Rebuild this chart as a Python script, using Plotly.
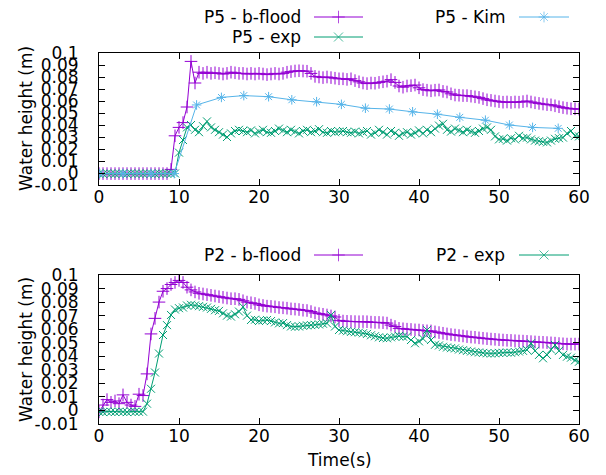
import plotly.graph_objects as go

# ---------------- data ----------------
STEP = 0.5
t_grid = [i * STEP for i in range(121)]  # 0 .. 60 s

p5_bflood = [
    -0.0005, -0.0005, -0.0005, -0.0005, -0.0005, -0.0005, -0.0005, -0.0005, -0.0005, -0.0005,
    -0.0005, -0.0005, -0.0005, -0.0005, -0.0005, -0.0005, -0.0005, -0.0005,
    0.003, 0.031, 0.038, 0.042, 0.055, 0.093, 0.075, 0.084, 0.083, 0.084,
    0.083, 0.0835, 0.083, 0.0825, 0.083, 0.084, 0.0835, 0.083, 0.083, 0.0825,
    0.083, 0.0825, 0.083, 0.0825, 0.082, 0.0825, 0.083, 0.0825, 0.083, 0.084,
    0.0845, 0.085, 0.0852, 0.085, 0.0848, 0.083, 0.0805, 0.080, 0.0795, 0.080,
    0.0795, 0.079, 0.0785, 0.0785, 0.078, 0.0785, 0.077, 0.076, 0.075, 0.0745,
    0.075, 0.0748, 0.0755, 0.076, 0.0765, 0.0778, 0.0755, 0.0725, 0.0715, 0.0725,
    0.0728, 0.0733, 0.071, 0.0695, 0.069, 0.0685, 0.069, 0.0692, 0.068, 0.0675,
    0.066, 0.065, 0.0648, 0.0645, 0.0645, 0.064, 0.0635, 0.063, 0.062, 0.061,
    0.0605, 0.060, 0.0595, 0.059, 0.0592, 0.0588, 0.0592, 0.059, 0.0595, 0.060,
    0.0592, 0.0585, 0.058, 0.0575, 0.057, 0.0568, 0.056, 0.0552, 0.0545, 0.054,
    0.0535, 0.0535, 0.0532,
]

p5_exp = [
    -0.0005, -0.0007, -0.0003, -0.0005, -0.0006, -0.0004, -0.0005, -0.0007, -0.0003, -0.0005,
    -0.0005, -0.0006, -0.0004, -0.0005, -0.0007, -0.0003, -0.0005, -0.0005, -0.0006, -0.0004,
    0.017, 0.0275, 0.038, 0.040, 0.036, 0.034, 0.039, 0.043, 0.038, 0.036,
    0.034, 0.032, 0.030, 0.033, 0.035, 0.036, 0.035, 0.034, 0.0355, 0.033,
    0.0345, 0.036, 0.034, 0.0335, 0.035, 0.037, 0.0355, 0.034, 0.036, 0.0345,
    0.033, 0.035, 0.036, 0.034, 0.035, 0.0365, 0.034, 0.0335, 0.035, 0.034,
    0.0345, 0.035, 0.034, 0.0335, 0.0345, 0.033, 0.034, 0.035, 0.032, 0.0335,
    0.036, 0.034, 0.032, 0.035, 0.0335, 0.031, 0.033, 0.034, 0.032, 0.0335,
    0.0355, 0.033, 0.036, 0.034, 0.037, 0.0395, 0.041, 0.036, 0.0345, 0.037,
    0.0355, 0.034, 0.036, 0.0345, 0.0335, 0.035, 0.037, 0.038, 0.036, 0.0305,
    0.028, 0.0285, 0.027, 0.029, 0.028, 0.031, 0.029, 0.0295, 0.028, 0.027,
    0.0265, 0.026, 0.0255, 0.027, 0.0285, 0.029, 0.0295, 0.033, 0.035, 0.031,
    0.0305,
]

p5_kim_t = [0.1, 3.0, 6.5, 9.4, 12.2, 15.3, 18.1, 21.2, 24.1, 27.2, 30.3,
            33.3, 36.3, 39.2, 42.3, 45.1, 48.3, 51.3, 54.2, 57.4]
p5_kim = [-0.0005, -0.0005, -0.0005, -0.0005, 0.0567, 0.063, 0.0645, 0.0636, 0.061,
          0.0594, 0.0572, 0.054, 0.0533, 0.051, 0.049, 0.0464, 0.044, 0.040,
          0.038, 0.0372]

p2_bflood = [
    -0.001, 0.004, 0.008, 0.006, 0.007, 0.005, 0.0115, 0.006, 0.004, 0.003,
    0.012, 0.011, 0.027, 0.0565, 0.068, 0.080, 0.088, 0.090, 0.093, 0.0945,
    0.096, 0.0945, 0.091, 0.089, 0.0875, 0.0865, 0.086, 0.0855, 0.085, 0.0845,
    0.084, 0.0835, 0.083, 0.0825, 0.0825, 0.082, 0.081, 0.080, 0.0795, 0.079,
    0.078, 0.0775, 0.077, 0.0768, 0.0765, 0.076, 0.0758, 0.0755, 0.075, 0.0748,
    0.0745, 0.074, 0.0738, 0.073, 0.072, 0.0715, 0.071, 0.0705, 0.0698, 0.069,
    0.0665, 0.066, 0.0658, 0.0657, 0.0656, 0.0655, 0.0656, 0.0655, 0.0652, 0.065,
    0.065, 0.0648, 0.0645, 0.063, 0.062, 0.0606, 0.0603, 0.060, 0.0598, 0.0595,
    0.0594, 0.059, 0.0588, 0.0587, 0.058, 0.0575, 0.057, 0.0565, 0.056, 0.0557,
    0.0553, 0.055, 0.0545, 0.0542, 0.054, 0.0536, 0.0533, 0.053, 0.0527, 0.0525,
    0.0522, 0.052, 0.0518, 0.0517, 0.0515, 0.0513, 0.0512, 0.051, 0.0508, 0.0506,
    0.0504, 0.0503, 0.0501, 0.0499, 0.0497, 0.0494, 0.0492, 0.049, 0.049, 0.049,
    0.049,
]

p2_exp = [
    -0.001, -0.0012, -0.0008, -0.001, -0.0011, -0.0009, -0.001, -0.0012, -0.0008, -0.001,
    -0.001, -0.0009,
    0.005, 0.016, 0.028, 0.042, 0.0557, 0.063, 0.0705, 0.0745,
    0.0755, 0.076, 0.0775, 0.078, 0.0775, 0.077, 0.0765, 0.076, 0.075, 0.074,
    0.0735, 0.0717, 0.070, 0.0693, 0.071, 0.073, 0.0765, 0.070, 0.0668, 0.067,
    0.066, 0.0665, 0.0668, 0.066, 0.065, 0.0643, 0.0645, 0.063, 0.062, 0.0618,
    0.062, 0.0625, 0.0628, 0.063, 0.0632, 0.0635, 0.064, 0.0643, 0.0705, 0.062,
    0.0594, 0.059, 0.0585, 0.058, 0.0578, 0.0575, 0.057, 0.0565, 0.0555, 0.0548,
    0.054, 0.0535, 0.0533, 0.054, 0.0545, 0.055, 0.0545, 0.0545, 0.052, 0.0496,
    0.051, 0.053, 0.0594, 0.052, 0.0485, 0.048, 0.047, 0.0465, 0.046, 0.0458,
    0.045, 0.0445, 0.044, 0.0435, 0.043, 0.0428, 0.0425, 0.0422, 0.042, 0.0422,
    0.0425, 0.0426, 0.0428, 0.0426, 0.043, 0.0435, 0.044, 0.0447, 0.0496, 0.044,
    0.041, 0.0385, 0.041, 0.045, 0.0483, 0.044, 0.041, 0.0397, 0.039, 0.037,
    0.036,
]

x_ticks = [0, 10, 20, 30, 40, 50, 60]
y_ticks = [-0.01, 0.0, 0.01, 0.02, 0.03, 0.04, 0.05, 0.06, 0.07, 0.08, 0.09, 0.1]
y_tick_text = ["-0.01", "0", "0.01", "0.02", "0.03", "0.04", "0.05", "0.06",
               "0.07", "0.08", "0.09", "0.1"]

# ---------------- style ----------------
PURPLE = "#9400D3"
GREEN = "#009E73"
BLUE = "#56B4E9"
FONT = "DejaVu Sans"
FS = 17
PW, PH = 606, 475          # page (window) size
OX, OY = 8, 8              # default body margin of the html page
W, H = PW - OX, PH - OY    # figure size

def fx(px):   # page pixel x -> paper fraction
    return (px - OX) / W

def fy(py):   # page pixel y -> paper fraction
    return 1 - (py - OY) / H

fig = go.Figure()

def add_series(x, y, color, symbol, xa, ya, size=9):
    fig.add_trace(go.Scatter(
        x=x, y=y, mode="lines+markers", xaxis=xa, yaxis=ya, showlegend=False,
        line=dict(color=color, width=1),
        marker=dict(symbol=symbol, size=size, color=color,
                    line=dict(width=1, color=color)),
        hoverinfo="skip"))

add_series(t_grid, p5_bflood, PURPLE, "cross-thin-open", "x", "y")
add_series(t_grid, p5_exp, GREEN, "x-thin-open", "x", "y", 8)
add_series(p5_kim_t, p5_kim, BLUE, "asterisk-open", "x", "y", 8)
add_series(t_grid, p2_bflood, PURPLE, "cross-thin-open", "x2", "y2")
add_series(t_grid, p2_exp, GREEN, "x-thin-open", "x2", "y2", 8)

# legend samples on a pixel-space full-figure axis pair
legend_items = [
    ("P5 - b-flood", PURPLE, "cross-thin-open", 303, 314, 363, 17),
    ("P5 - exp", GREEN, "x-thin-open", 303, 314, 363, 37),
    ("P5 - Kim", BLUE, "asterisk-open", 507, 519, 569, 17),
    ("P2 - b-flood", PURPLE, "cross-thin-open", 303, 314, 363, 255),
    ("P2 - exp", GREEN, "x-thin-open", 507, 519, 569, 255),
]
annotations = []
for label, color, symbol, tx, x0, x1, yy in legend_items:
    fig.add_trace(go.Scatter(
        x=[x0, (x0 + x1) / 2, x1], y=[yy, yy, yy], mode="lines+markers",
        xaxis="x3", yaxis="y3", showlegend=False, hoverinfo="skip",
        line=dict(color=color, width=1),
        marker=dict(symbol=symbol, size=[0, 9, 0], color=color,
                    line=dict(width=1, color=color))))
    annotations.append(dict(x=fx(tx), y=fy(yy), xref="paper", yref="paper",
                            text=label, showarrow=False, xanchor="right",
                            yanchor="middle",
                            font=dict(family=FONT, size=FS, color="black")))

def ann(text, px, py, angle=0):
    annotations.append(dict(x=fx(px), y=fy(py), xref="paper", yref="paper",
                            text=text, textangle=angle, showarrow=False,
                            xanchor="center", yanchor="middle",
                            font=dict(family=FONT, size=FS, color="black")))

ann("Water height (m)", 26, 119, -90)
ann("Water height (m)", 26, 350, -90)
ann("Time(s)", 339, 460)

x_dom = [fx(99), fx(579)]
top_dom = [fy(185), fy(53)]
bot_dom = [fy(424), fy(275)]

xax = dict(range=[0, 60], tickvals=x_ticks, ticks="inside", ticklen=6,
           tickcolor="black", showline=True, linecolor="black", linewidth=1,
           mirror="ticks", showgrid=False, zeroline=False, automargin=False,
           ticklabelstandoff=-3,
           tickfont=dict(family=FONT, size=FS, color="black"), domain=x_dom)
yax = dict(range=[-0.01, 0.1], tickvals=y_ticks, ticktext=y_tick_text,
           ticks="inside", ticklen=6, tickcolor="black", showline=True,
           linecolor="black", linewidth=1, mirror="ticks", showgrid=False,
           zeroline=False, ticklabelstandoff=16, automargin=False,
           tickfont=dict(family=FONT, size=FS, color="black"))

fig.update_layout(
    width=W, height=H, margin=dict(l=0, r=0, t=0, b=0, autoexpand=False),
    paper_bgcolor="white", plot_bgcolor="rgba(0,0,0,0)",
    xaxis=dict(xax, anchor="y"),
    yaxis=dict(yax, domain=top_dom, anchor="x"),
    xaxis2=dict(xax, anchor="y2"),
    yaxis2=dict(yax, domain=bot_dom, anchor="x2"),
    xaxis3=dict(range=[OX, PW], domain=[0, 1], visible=False, anchor="y3",
                fixedrange=True),
    yaxis3=dict(range=[PH, OY], domain=[0, 1], visible=False, anchor="x3",
                fixedrange=True),
    annotations=annotations,
    showlegend=False,
)

fig.write_html("out.html")
